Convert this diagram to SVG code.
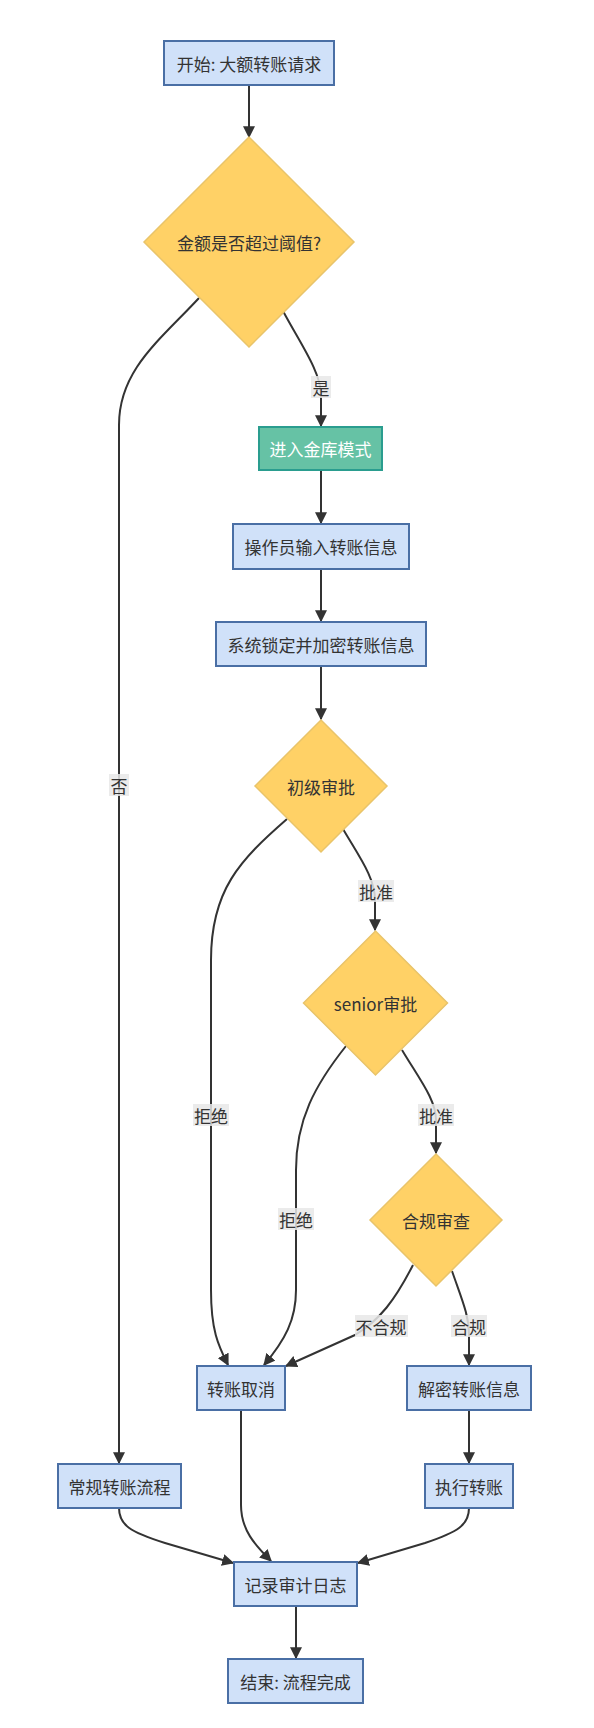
<svg xmlns="http://www.w3.org/2000/svg" width="594" height="1728" viewBox="0 0 594 1728">
<style>
.box{fill:#D0E1F9;stroke:#4A6FA5;stroke-width:2}
.green{fill:#66C2A5;stroke:#2A9D8F;stroke-width:2}
.dia{fill:#FFD166;stroke:#E9C46A;stroke-width:1.5}
.t{font-family:"Noto Sans CJK SC","Microsoft YaHei",sans-serif;font-size:17px;fill:#333;text-anchor:middle;dominant-baseline:central}
.tw{fill:#ffffff}
.e{fill:none;stroke:#333;stroke-width:2;marker-end:url(#arr)}
.lb{fill:#e8e8e8;opacity:0.85}
</style>
<defs>
<marker id="arr" viewBox="0 0 10 10" refX="9" refY="5" markerUnits="userSpaceOnUse" markerWidth="12" markerHeight="12" orient="auto">
<path d="M0,0 L10,5 L0,10 z" fill="#333"/>
</marker>
</defs>
<rect width="594" height="1728" fill="#ffffff"/>
<g id="connectors">
<path class="e" d="M249,85 L249,137"/>
<path class="e" d="M283,311 C300,343 321,372 321,395 L321,426"/>
<path class="e" d="M199,298 C160,340 119,370 119,425 L119,1463"/>
<path class="e" d="M321,470 L321,523"/>
<path class="e" d="M321,569 L321,621"/>
<path class="e" d="M321,666 L321,719"/>
<path class="e" d="M343,829 C360,858 375,878 375,900 L375,930"/>
<path class="e" d="M287,819 C240,860 211,890 211,960 L211,1290 C211,1330 218,1345 228,1365"/>
<path class="e" d="M402,1050 C420,1080 436,1100 436,1120 L436,1153"/>
<path class="e" d="M346,1046 C315,1085 296,1120 296,1170 L296,1290 C296,1320 285,1340 264,1365"/>
<path class="e" d="M413,1265 C395,1300 380,1320 355,1335 L286,1366"/>
<path class="e" d="M452,1271 C462,1300 469,1315 469,1335 L469,1365"/>
<path class="e" d="M469,1410 L469,1463"/>
<path class="e" d="M119,1508 C119,1525 130,1532 165,1543 L233,1563"/>
<path class="e" d="M241,1410 L241,1505 C241,1530 255,1545 271,1561"/>
<path class="e" d="M469,1508 C469,1525 458,1532 425,1543 L358,1563"/>
<path class="e" d="M296,1606 L296,1658"/>
<rect class="lb" x="311" y="376" width="20" height="22"/>
<text class="t" x="321" y="387">是</text>
<rect class="lb" x="109" y="774" width="20" height="22"/>
<text class="t" x="119" y="785">否</text>
<rect class="lb" x="358" y="880" width="36" height="22"/>
<text class="t" x="376" y="891">批准</text>
<rect class="lb" x="193" y="1104" width="36" height="22"/>
<text class="t" x="211" y="1115">拒绝</text>
<rect class="lb" x="418" y="1104" width="36" height="22"/>
<text class="t" x="436" y="1115">批准</text>
<rect class="lb" x="278" y="1208" width="36" height="22"/>
<text class="t" x="296" y="1219">拒绝</text>
<rect class="lb" x="355" y="1315" width="53" height="22"/>
<text class="t" x="381" y="1326">不合规</text>
<rect class="lb" x="451" y="1315" width="36" height="22"/>
<text class="t" x="469" y="1326">合规</text>
</g>
<g id="start"><rect class="box" x="164" y="41" width="170" height="44"/><text class="t" x="249" y="63">开始: 大额转账请求</text></g>
<g id="threshold"><polygon class="dia" points="249,137 354,242 249,347 144,242"/><text class="t" x="249" y="242">金额是否超过阈值?</text></g>
<g id="vault"><rect class="green" x="259" y="427" width="123" height="43"/><text class="t tw" x="320.5" y="448.5">进入金库模式</text></g>
<g id="input"><rect class="box" x="233" y="524" width="176" height="45"/><text class="t" x="321" y="546.5">操作员输入转账信息</text></g>
<g id="lock"><rect class="box" x="216" y="622" width="210" height="44"/><text class="t" x="321" y="644">系统锁定并加密转账信息</text></g>
<g id="approve1"><polygon class="dia" points="321,720 387,786 321,852 255,786"/><text class="t" x="321" y="786">初级审批</text></g>
<g id="approve2"><polygon class="dia" points="375.5,931 447.5,1003 375.5,1075 303.5,1003"/><text class="t" x="375.5" y="1003">senior审批</text></g>
<g id="compliance"><polygon class="dia" points="436,1154 502,1220 436,1286 370,1220"/><text class="t" x="436" y="1220">合规审查</text></g>
<g id="cancel"><rect class="box" x="197" y="1366" width="88" height="44"/><text class="t" x="241" y="1388">转账取消</text></g>
<g id="decrypt"><rect class="box" x="407" y="1366" width="124" height="44"/><text class="t" x="469" y="1388">解密转账信息</text></g>
<g id="normal"><rect class="box" x="58" y="1464" width="123" height="44"/><text class="t" x="119.5" y="1486">常规转账流程</text></g>
<g id="execute"><rect class="box" x="425" y="1464" width="88" height="44"/><text class="t" x="469" y="1486">执行转账</text></g>
<g id="audit"><rect class="box" x="234" y="1562" width="123" height="44"/><text class="t" x="295.5" y="1584">记录审计日志</text></g>
<g id="end"><rect class="box" x="228" y="1659" width="135" height="44"/><text class="t" x="295.5" y="1681">结束: 流程完成</text></g>
</svg>
